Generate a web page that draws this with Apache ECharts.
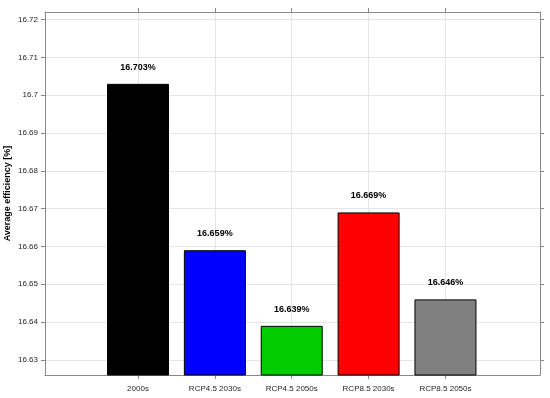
<!DOCTYPE html>
<html><head><meta charset="utf-8">
<script src="https://cdn.jsdelivr.net/npm/echarts@6/dist/echarts.min.js"></script>
<style>html,body{margin:0;padding:0;background:#fff}#c{width:550px;height:398px}</style>
</head><body><div id="c"></div>
<script>
var categories = ['2000s', 'RCP4.5 2030s', 'RCP4.5 2050s', 'RCP8.5 2030s', 'RCP8.5 2050s'];
var values = [16.703, 16.659, 16.639, 16.669, 16.646];
var colors = ['#000000', '#0000ff', '#00cc00', '#ff0000', '#808080'];
var yTicks = [16.63, 16.64, 16.65, 16.66, 16.67, 16.68, 16.69, 16.70, 16.71, 16.72];
var xPositions = [1, 2, 3, 4, 5];

var chart = echarts.init(document.getElementById('c'), null, {renderer: 'canvas'});
var font = 'Liberation Sans, Arial, Helvetica, sans-serif';
var axisColor = '#8a8a8a';
var data = values.map(function (v, i) {
  return {value: [xPositions[i], v], itemStyle: {color: colors[i]}};
});
function yFmt(v) { return String(+(+v).toFixed(2)); }
function xFmt(v) { var i = Math.round(v) - 1; return categories[i] || ''; }
chart.setOption({
  animation: false,
  grid: {left: 45, right: 10, top: 12, bottom: 23, containLabel: false, outerBoundsMode: 'none'},
  xAxis: [{
    type: 'value', min: -0.21, max: 6.23, position: 'bottom',
    axisLine: {show: true, onZero: false, lineStyle: {color: axisColor, width: 1}},
    axisTick: {show: true, customValues: xPositions, length: 4, inside: false, lineStyle: {color: axisColor}},
    axisLabel: {show: true, customValues: xPositions, formatter: xFmt, color: '#262626', fontFamily: font, fontSize: 8, margin: 10},
    splitLine: {show: true, lineStyle: {color: '#e6e6e6', width: 1}}
  }, {
    type: 'value', min: -0.21, max: 6.23, position: 'top',
    axisLine: {show: true, onZero: false, lineStyle: {color: axisColor, width: 1}},
    axisTick: {show: true, customValues: xPositions, length: 4, inside: false, lineStyle: {color: axisColor}},
    axisLabel: {show: false},
    splitLine: {show: false}
  }],
  yAxis: [{
    type: 'value', min: 16.626, max: 16.722, position: 'left',
    name: 'Average efficiency [%]', nameLocation: 'middle', nameGap: 33, nameMoveOverlap: false,
    nameTextStyle: {fontFamily: font, fontSize: 9, fontWeight: 'bold', color: '#000'},
    axisLine: {show: true, onZero: false, lineStyle: {color: axisColor, width: 1}},
    axisTick: {show: true, customValues: yTicks, length: 4, inside: false, lineStyle: {color: axisColor}},
    axisLabel: {show: true, customValues: yTicks, formatter: yFmt, color: '#262626', fontFamily: font, fontSize: 8, margin: 7},
    splitLine: {show: true, lineStyle: {color: '#e6e6e6', width: 1}}
  }, {
    type: 'value', min: 16.626, max: 16.722, position: 'right',
    axisLine: {show: true, onZero: false, lineStyle: {color: axisColor, width: 1}},
    axisTick: {show: true, customValues: yTicks, length: 4, inside: false, lineStyle: {color: axisColor}},
    axisLabel: {show: false},
    splitLine: {show: false}
  }],
  series: [{
    type: 'bar', xAxisIndex: 0, yAxisIndex: 0,
    data: data, barWidth: 62, clip: true,
    itemStyle: {borderColor: '#000', borderWidth: 1},
    label: {
      show: true, position: 'top', distance: 12,
      formatter: function (p) { return p.value[1].toFixed(3) + '%'; },
      fontFamily: font, fontSize: 9, fontWeight: 'bold', color: '#000'
    }
  }]
});
</script></body></html>
